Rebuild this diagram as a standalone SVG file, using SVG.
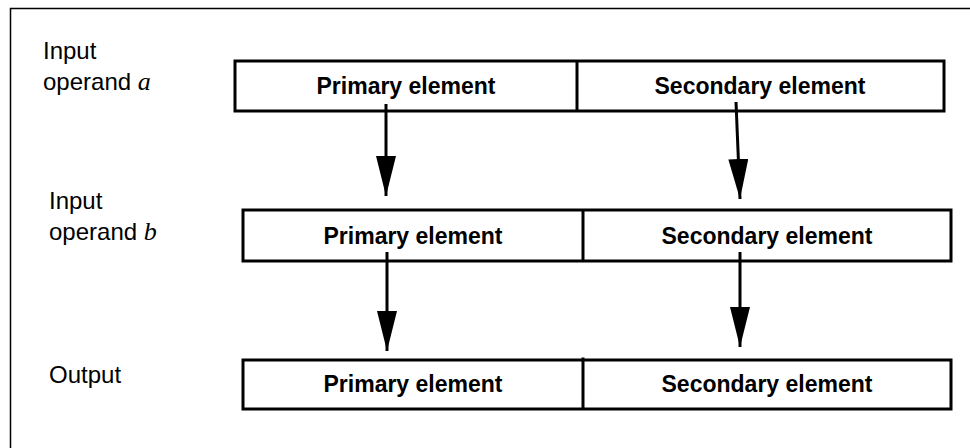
<svg xmlns="http://www.w3.org/2000/svg" width="970" height="448" viewBox="0 0 970 448">
<style>
.frame{fill:none;stroke:#000;stroke-width:1.5}
.box{fill:#fff;stroke:#000;stroke-width:3}
.div{stroke:#000;stroke-width:3}
.lbl{font-family:"Liberation Sans",Arial,sans-serif;font-size:24px;fill:#000}
.var{font-family:"Liberation Serif","Times New Roman",serif;font-style:italic;font-size:26px}
.el{font-family:"Liberation Sans",Arial,sans-serif;font-size:23px;font-weight:bold;fill:#000;text-anchor:middle}
.conn{stroke:#000;stroke-width:3;fill:none;marker-end:url(#ah)}
</style>
<defs>
<marker id="ah" markerUnits="userSpaceOnUse" markerWidth="40" markerHeight="20" refX="40" refY="10" orient="auto" viewBox="0 0 40 20">
<path d="M0,0 L40,10 L0,20 z" fill="#000"/>
</marker>
</defs>
<path class="frame" d="M10.5,448 V8.5 H970"/>
<g id="label-a">
<text class="lbl" x="43" y="59">Input</text>
<text class="lbl" x="43" y="90">operand <tspan class="var">a</tspan></text>
</g>
<g id="label-b">
<text class="lbl" x="49" y="209">Input</text>
<text class="lbl" x="49" y="240">operand <tspan class="var">b</tspan></text>
</g>
<g id="label-out">
<text class="lbl" x="49" y="383">Output</text>
</g>
<g id="row-a">
<rect class="box" x="235" y="61" width="709" height="50"/>
<line class="div" x1="577" y1="61" x2="577" y2="111"/>
<text class="el" x="406" y="94">Primary element</text>
<text class="el" x="760" y="94">Secondary element</text>
</g>
<g id="row-b">
<rect class="box" x="243" y="210" width="708" height="51"/>
<line class="div" x1="583" y1="210" x2="583" y2="261"/>
<text class="el" x="413" y="244">Primary element</text>
<text class="el" x="767" y="244">Secondary element</text>
</g>
<g id="row-out">
<rect class="box" x="243" y="360" width="708" height="49"/>
<line class="div" x1="583" y1="357.5" x2="583" y2="409"/>
<text class="el" x="413" y="392">Primary element</text>
<text class="el" x="767" y="392">Secondary element</text>
</g>
<g id="connectors">
<line class="conn" x1="386" y1="104" x2="386" y2="196"/>
<line class="conn" x1="736" y1="102" x2="740" y2="199"/>
<line class="conn" x1="387" y1="252" x2="387" y2="351"/>
<line class="conn" x1="740" y1="252" x2="740" y2="347"/>
</g>
</svg>
